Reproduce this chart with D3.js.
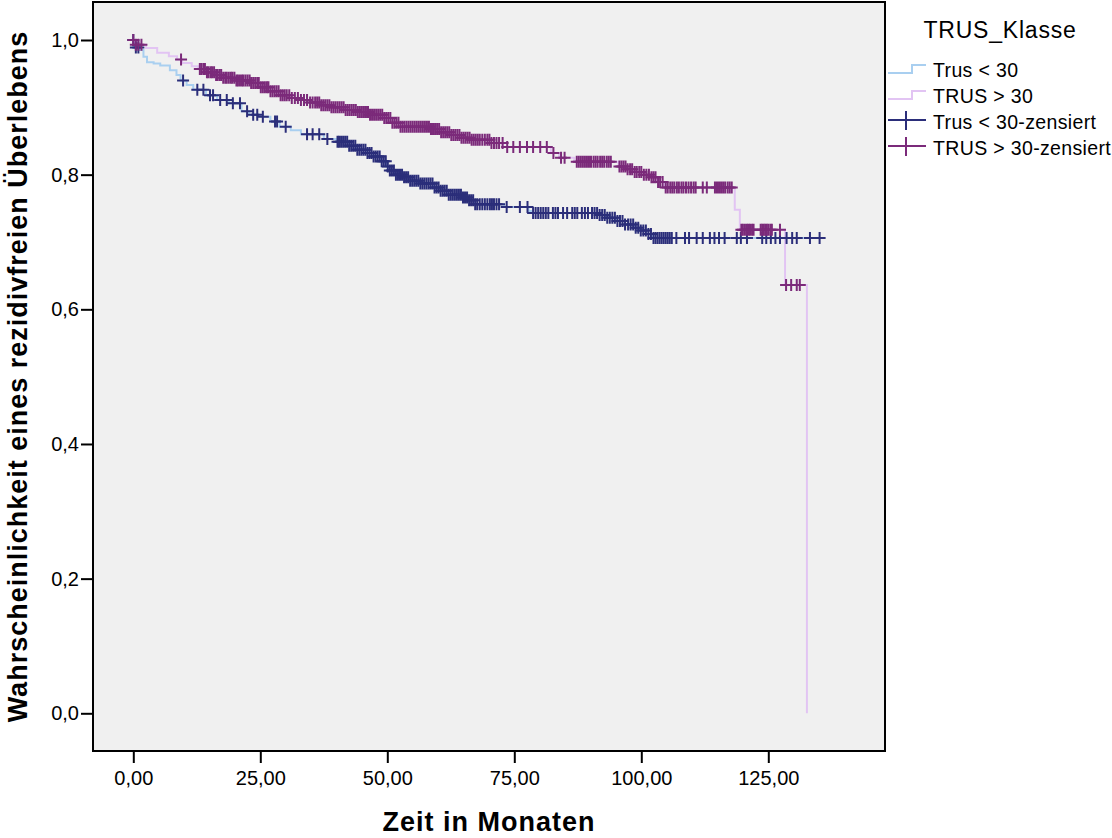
<!DOCTYPE html>
<html>
<head>
<meta charset="utf-8">
<script src="https://cdn.jsdelivr.net/npm/d3@7"></script>
<style>
  body { margin: 0; background: #ffffff; }
  svg { display: block; }
  text { font-family: "Liberation Sans", Arial, Helvetica, sans-serif; fill: #000; }
</style>
</head>
<body>
<svg id="chart" width="1112" height="838"></svg>
<script>
// Axis ticks
const xTicks = [0, 25, 50, 75, 100, 125];
const yTicks = [0, 0.2, 0.4, 0.6, 0.8, 1.0];

// Legend entries
const groupNames = ["Trus < 30", "TRUS > 30"];
const censorNames = ["Trus < 30-zensiert", "TRUS > 30-zensiert"];
const legendTitle = "TRUS_Klasse";

// Kaplan-Meier estimate, group "Trus < 30": event times (months) and survival after each event
const lowEventTimes = [0.3, 1.3, 2.0, 2.7, 4.0, 5.3, 7.2, 8.5, 9.3, 10.5, 11.8, 14.3, 16.5, 18.8, 21.3, 22.8,
  25.0, 27.0, 28.8, 31.0, 33.0, 37.5, 40.0, 42.5, 44.0, 45.8, 47.2, 48.8, 49.8, 50.5, 51.5, 53.0, 54.5,
  56.5, 59.0, 60.5, 61.8, 64.9, 66.0, 67.2, 73.0, 77.8, 78.3, 91.5, 93.0, 95.0, 96.8, 98.5, 99.7, 101.0, 102.2];
const lowSurvival = [0.989, 0.985, 0.975, 0.967, 0.965, 0.962, 0.955, 0.948, 0.940, 0.933, 0.926, 0.918, 0.911,
  0.906, 0.894, 0.889, 0.886, 0.879, 0.871, 0.866, 0.860, 0.853, 0.849, 0.843, 0.837, 0.832, 0.827, 0.820,
  0.812, 0.806, 0.800, 0.796, 0.791, 0.787, 0.781, 0.776, 0.770, 0.766, 0.762, 0.756, 0.752, 0.746, 0.743,
  0.740, 0.736, 0.731, 0.726, 0.721, 0.717, 0.712, 0.706];
// Censored observations, group "Trus < 30" (months)
const lowCensored = [0.0, 0.5, 1.0, 9.8, 12.6, 13.8, 15.1, 15.7, 17.1, 18.4, 19.6, 21.0, 22.4, 23.6, 24.4, 25.5,
  27.9, 28.3, 30.0, 34.2, 35.3, 36.6, 38.2, 40.2,
  40.5, 40.9, 41.3, 41.7, 42.1, 42.5, 42.9, 43.3, 43.7, 44.1, 44.5, 44.9, 45.3, 45.7, 46.1, 46.5, 46.9, 47.3,
  47.7, 48.1, 48.5, 48.9, 49.3, 49.7, 50.1, 50.5, 50.9, 51.3, 51.7, 52.1, 52.5, 52.9, 53.3, 53.7, 54.1, 54.5,
  54.9, 55.3, 55.7, 56.1, 56.5, 56.9, 57.3, 57.7, 58.1, 58.5, 58.9, 59.3, 59.7, 60.1, 60.5, 60.9, 61.3, 61.7,
  62.1, 62.5, 62.9, 63.3, 63.7, 64.1, 64.5, 64.9, 65.3, 65.7, 66.1, 66.5, 66.9, 67.3, 67.7, 68.2, 68.7, 69.2,
  69.7, 70.2, 70.6, 71.0, 71.5, 72.0,
  73.5, 76.1, 77.6, 78.7, 79.2, 79.7, 80.2, 80.7, 81.2, 81.7, 82.6, 83.1, 83.6, 84.6, 85.4, 86.4, 86.9, 87.4,
  88.3, 88.9, 89.5, 90.3, 90.8, 91.3, 91.8, 92.3, 92.8, 93.3, 93.8, 94.3, 94.8, 95.3, 95.8, 96.3, 96.8, 97.4,
  97.9, 98.4, 98.9, 99.4, 99.9, 100.4, 100.9, 101.4, 101.9, 102.4, 102.8, 103.2, 103.6, 104.0, 104.4, 104.8,
  105.2, 105.6, 106.0, 106.9, 108.6, 109.4, 110.9, 112.1, 113.5, 114.4, 115.3, 116.4, 118.8, 119.6, 120.8,
  123.8, 124.6, 125.5, 126.4, 127.3, 128.6, 129.7, 130.6, 133.2, 135.1];

// Kaplan-Meier estimate, group "TRUS > 30"
const highEventTimes = [0.3, 2.5, 4.7, 7.0, 8.6, 9.6, 11.5, 12.8, 14.5, 16.0, 17.7, 20.0, 23.0, 25.0, 26.9, 28.8,
  30.8, 33.0, 34.8, 36.8, 38.7, 41.5, 44.0, 46.5, 49.2, 51.0, 52.5, 58.4, 60.5, 62.3, 64.5, 66.3, 70.2, 72.8,
  82.2, 83.8, 86.8, 95.5, 97.0, 98.4, 100.5, 102.0, 103.1, 104.6, 118.4, 119.4, 128.3, 132.6];
const highSurvival = [0.993, 0.988, 0.981, 0.976, 0.971, 0.966, 0.961, 0.957, 0.952, 0.948, 0.944, 0.940, 0.936,
  0.930, 0.924, 0.918, 0.914, 0.911, 0.907, 0.903, 0.900, 0.896, 0.893, 0.889, 0.884, 0.877, 0.871, 0.868,
  0.863, 0.859, 0.855, 0.852, 0.847, 0.841, 0.832, 0.825, 0.819, 0.812, 0.808, 0.804, 0.800, 0.796, 0.789,
  0.781, 0.748, 0.718, 0.636, 0.000];
// Censored observations, group "TRUS > 30"
const highCensored = [0.0, 0.5, 1.0, 1.6, 9.4,
  13.1, 13.4, 13.8, 14.1, 14.5, 14.8, 15.2, 15.5, 15.9, 16.3, 16.6, 17.0, 17.3, 17.7, 18.1, 18.4, 18.8, 19.2,
  19.5, 19.9, 20.3, 20.6, 21.0, 21.4, 21.7, 22.1, 22.5, 22.9, 23.2, 23.6, 24.0, 24.4, 24.7, 25.1, 25.5, 25.9,
  26.3, 26.6, 27.0, 27.4, 27.8, 28.2, 28.6, 29.0, 29.4, 29.8, 30.2, 30.7, 31.2, 31.8, 32.4, 33.0, 33.6, 34.2,
  34.8, 35.3, 35.8, 36.2, 36.6, 37.0, 37.4, 37.8, 38.2, 38.6, 39.0, 39.4, 39.8, 40.2, 40.6, 41.0, 41.4, 41.8,
  42.2, 42.6, 43.0, 43.4, 43.8, 44.2, 44.6, 45.0, 45.4, 45.8, 46.2, 46.6, 47.0, 47.4, 47.8, 48.2, 48.6, 49.0,
  49.4, 49.8, 50.2, 50.6, 51.0, 51.4, 51.8, 52.2, 52.6, 53.0, 53.4, 53.8, 54.2, 54.6, 55.0, 55.4, 55.8, 56.2,
  56.6, 57.0, 57.4, 57.8, 58.2, 58.6, 59.0, 59.4, 59.8, 60.2, 60.6, 61.0, 61.4, 61.8, 62.2, 62.6, 63.0, 63.4,
  63.8, 64.2, 64.6, 65.0, 65.4, 65.8, 66.2, 66.6, 67.0, 67.4, 67.8, 68.2, 68.7, 69.2, 69.7, 70.1, 70.5, 71.0,
  71.5, 72.0,
  72.7, 73.6, 74.8, 76.1, 77.5, 78.7, 80.1, 81.4, 82.7, 84.2, 84.9, 87.3, 87.7, 88.1, 88.5, 88.9, 89.3, 89.7,
  90.1, 90.6, 91.0, 91.4, 91.9, 92.3, 92.7, 93.2, 93.6, 94.0, 95.7, 96.1, 96.5, 96.9, 97.3, 97.8, 98.2, 98.7,
  99.1, 99.6, 100.0, 100.5, 101.0, 101.5, 102.0, 102.4, 102.8, 103.3, 103.7, 104.2, 104.8, 105.2, 105.7,
  106.1, 106.5, 107.0, 107.4, 107.9, 108.3, 108.8, 109.3, 109.8, 110.3, 110.7, 112.1, 112.9, 114.5, 114.9,
  115.3, 115.7, 116.1, 116.5, 117.0, 117.4, 117.8,
  119.7, 120.0, 120.4, 120.8, 121.1, 121.4, 121.8, 122.1, 123.5, 123.8, 124.1, 124.4, 124.7, 125.0, 125.4,
  125.7, 127.3, 128.5, 129.5, 130.6, 131.2];

const lineColors = ["#a9cff0", "#e2c4f3"];
const markColors = ["#2b2e7a", "#7b2a7a"];

const svg = d3.select("#chart");

// Plot frame (pixel box) and data scales
const frame = { left: 93, right: 885, top: 2, bottom: 751 };
const x = d3.scaleLinear().domain([0, 125]).range([133.3, 768.3]);
const y = d3.scaleLinear().domain([0, 1]).range([713.3, 40]);

svg.append("rect")
  .attr("x", frame.left).attr("y", frame.top)
  .attr("width", frame.right - frame.left).attr("height", frame.bottom - frame.top)
  .attr("fill", "#f0f0f0");

// Survival value at time t from a step table
function survivalAt(times, surv, t) {
  let s = 1;
  for (let i = 0; i < times.length; i++) {
    if (times[i] <= t) s = surv[i]; else break;
  }
  return s;
}

const groups = [
  { times: lowEventTimes, surv: lowSurvival, cens: lowCensored },
  { times: highEventTimes, surv: highSurvival, cens: highCensored }
];

const stepLine = d3.line()
  .x(d => x(d[0]))
  .y(d => y(d[1]))
  .curve(d3.curveStepAfter);

const plot = svg.append("g");

// Survival curves
groups.forEach((g, i) => {
  const pts = [[0, 1]].concat(g.times.map((t, k) => [t, g.surv[k]]));
  const lastCens = d3.max(g.cens);
  const lastEvent = g.times[g.times.length - 1];
  if (lastCens > lastEvent && g.surv[g.surv.length - 1] > 0) {
    pts.push([lastCens, g.surv[g.surv.length - 1]]);
  }
  plot.append("path")
    .attr("d", stepLine(pts))
    .attr("fill", "none")
    .attr("stroke", lineColors[i])
    .attr("stroke-width", 2);
});

// Censoring marks
const half = 6;
groups.forEach((g, i) => {
  plot.append("g")
    .selectAll("path")
    .data(g.cens)
    .join("path")
    .attr("d", t => {
      const cx = x(t), cy = y(survivalAt(g.times, g.surv, t));
      return `M${cx - half},${cy}H${cx + half}M${cx},${cy - half}V${cy + half}`;
    })
    .attr("fill", "none")
    .attr("stroke", markColors[i])
    .attr("stroke-width", 2);
});

// Frame border
svg.append("rect")
  .attr("x", frame.left).attr("y", frame.top)
  .attr("width", frame.right - frame.left).attr("height", frame.bottom - frame.top)
  .attr("fill", "none").attr("stroke", "#000").attr("stroke-width", 2);

// Axes
const commaFmt = f => d => d3.format(f)(d).replace(".", ",");

const xAxis = svg.append("g")
  .attr("transform", `translate(0,${frame.bottom})`)
  .call(d3.axisBottom(x).tickValues(xTicks).tickSize(12).tickPadding(8).tickFormat(commaFmt(".2f")));
const yAxis = svg.append("g")
  .attr("transform", `translate(${frame.left},0)`)
  .call(d3.axisLeft(y).tickValues(yTicks).tickSize(12).tickPadding(2).tickFormat(commaFmt(".1f")));

[xAxis, yAxis].forEach(a => {
  a.select(".domain").remove();
  a.selectAll(".tick line").attr("stroke", "#000").attr("stroke-width", 2);
  a.selectAll(".tick text")
    .attr("font-family", "'Liberation Sans', Arial, sans-serif")
    .attr("font-size", 20).attr("fill", "#000");
});

// Axis titles
svg.append("text")
  .attr("x", (frame.left + frame.right) / 2).attr("y", 831)
  .attr("text-anchor", "middle")
  .attr("font-size", 27).attr("font-weight", "bold")
  .attr("letter-spacing", 1)
  .text("Zeit in Monaten");

svg.append("text")
  .attr("transform", `translate(27,${(frame.top + frame.bottom) / 2}) rotate(-90)`)
  .attr("text-anchor", "middle")
  .attr("font-size", 27).attr("font-weight", "bold")
  .attr("letter-spacing", 1)
  .text("Wahrscheinlichkeit eines rezidivfreien Überlebens");

// Legend
const legend = svg.append("g");
legend.append("text")
  .attr("x", 1000).attr("y", 38)
  .attr("text-anchor", "middle")
  .attr("font-size", 23).attr("letter-spacing", 0.8)
  .text(legendTitle);

const rowY = [70, 96, 122, 148];
const legendItems = [
  { label: groupNames[0], kind: "step", color: lineColors[0] },
  { label: groupNames[1], kind: "step", color: lineColors[1] },
  { label: censorNames[0], kind: "cross", color: markColors[0] },
  { label: censorNames[1], kind: "cross", color: markColors[1] }
];
legendItems.forEach((item, i) => {
  const cy = rowY[i];
  const d = item.kind === "step"
    ? `M888,${cy + 3}H912V${cy - 5}H926`
    : `M888,${cy - 2}H926M906,${cy - 11}V${cy + 8}`;
  legend.append("path")
    .attr("d", d).attr("fill", "none")
    .attr("stroke", item.color).attr("stroke-width", 2);
  legend.append("text")
    .attr("x", 933).attr("y", cy + 7)
    .attr("font-size", 19.5).attr("letter-spacing", 0.35)
    .text(item.label);
});
</script>
</body>
</html>
